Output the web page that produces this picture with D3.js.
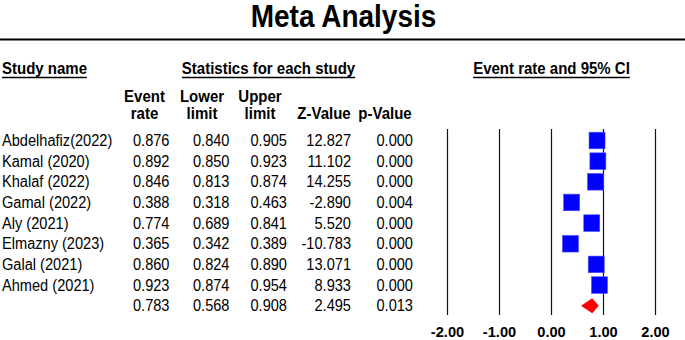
<!DOCTYPE html>
<html>
<head>
<meta charset="utf-8">
<script src="https://cdn.jsdelivr.net/npm/d3@7"></script>
<style>
  body { margin: 0; background: #fff; }
  svg { display: block; font-family: "Liberation Sans", Arial, Helvetica, sans-serif; }
</style>
</head>
<body>
<svg width="685" height="340"></svg>
<script>
const studies = ['Abdelhafiz(2022)', 'Kamal (2020)', 'Khalaf (2022)', 'Gamal (2022)',
    'Aly (2021)', 'Elmazny (2023)', 'Galal (2021)', 'Ahmed (2021)'];
const eventRate  = [0.876, 0.892, 0.846, 0.388, 0.774, 0.365, 0.860, 0.923];
const lowerLimit = [0.840, 0.850, 0.813, 0.318, 0.689, 0.342, 0.824, 0.874];
const upperLimit = [0.905, 0.923, 0.874, 0.463, 0.841, 0.389, 0.890, 0.954];
const zValue     = [12.827, 11.102, 14.255, -2.890, 5.520, -10.783, 13.071, 8.933];
const pValue     = [0.000, 0.000, 0.000, 0.004, 0.000, 0.000, 0.000, 0.000];
// pooled row
const summaryRow = [0.783, 0.568, 0.908, 2.495, 0.013];
const xTicks = [-2, -1, 0, 1, 2];

const svg = d3.select('svg');
const width = +svg.attr('width');

// plain hyphen for negatives, like the source
const fmt3 = v => v.toFixed(3);
const fmt2 = v => v.toFixed(2);

const rows = studies.map((name, i) => ({
    name,
    er: eventRate[i], lo: lowerLimit[i], up: upperLimit[i], z: zValue[i], p: pValue[i],
    summary: false
}));
rows.push({
    name: '',
    er: summaryRow[0], lo: summaryRow[1], up: summaryRow[2], z: summaryRow[3], p: summaryRow[4],
    summary: true
});

const xScale = d3.scaleLinear().domain([-2, 2]).range([447.5, 655.5]);
const yScale = d3.scalePoint()
    .domain(d3.range(rows.length))
    .range([140.5, 140.5 + 20.65 * (rows.length - 1)]);

// text helper, slightly stretched vertically like the source
const label = (sel, x, y, txt, opts = {}) => sel.append('text')
    .attr('transform', `translate(${x},${y}) scale(1,${opts.sy || 1.08})`)
    .attr('text-anchor', opts.anchor || 'start')
    .attr('font-size', opts.size || 14.6)
    .attr('font-weight', opts.bold ? 'bold' : 'normal')
    .attr('fill', '#000')
    .text(txt);

const underline = (t, x, y, anchor) => {
    const w = t.node().getComputedTextLength();
    const x0 = anchor === 'middle' ? x - w / 2 : x;
    svg.append('line')
        .attr('x1', x0).attr('x2', x0 + w)
        .attr('y1', y).attr('y2', y)
        .attr('stroke', '#000').attr('stroke-width', 1.3);
};

// title
svg.append('text')
    .attr('transform', 'translate(343.5,27) scale(1,1.1)')
    .attr('text-anchor', 'middle')
    .attr('font-size', 28)
    .attr('font-weight', 'bold')
    .text('Meta Analysis');

svg.append('line')
    .attr('x1', 0).attr('x2', width)
    .attr('y1', 39.5).attr('y2', 39.5)
    .attr('stroke', '#000').attr('stroke-width', 2);

// group headers
const headers = [
    {text: 'Study name', x: 2, anchor: 'start'},
    {text: 'Statistics for each study', x: 268.5, anchor: 'middle'},
    {text: 'Event rate and 95% CI', x: xScale(0), anchor: 'middle'}
];
headers.forEach(h => {
    const t = label(svg, h.x, 74, h.text, {size: 15, bold: true, anchor: h.anchor, sy: 1.04});
    underline(t, h.x, 77.5, h.anchor);
});

// column headers
const columns = [
    {lines: ['Event', 'rate'], hx: 144.5, right: 169.5, key: 'er'},
    {lines: ['Lower', 'limit'], hx: 202, right: 229.5, key: 'lo'},
    {lines: ['Upper', 'limit'], hx: 260, right: 287, key: 'up'},
    {lines: ['Z-Value'], hx: 324, right: 351, key: 'z'},
    {lines: ['p-Value'], hx: 385, right: 413, key: 'p'}
];
columns.forEach(c => {
    const base = c.lines.length === 2 ? 101.5 : 118.5;
    c.lines.forEach((ln, j) => {
        label(svg, c.hx, base + j * 17, ln, {size: 15, bold: true, anchor: 'middle', sy: 1.04});
    });
});

// table rows
rows.forEach((d, i) => {
    const y = yScale(i) + 5.6;
    if (d.name) label(svg, 2, y, d.name);
    columns.forEach(c => {
        label(svg, c.right, y, fmt3(d[c.key]), {anchor: 'end'});
    });
});

// forest plot
const plot = svg.append('g');

plot.selectAll('line.grid').data(xTicks)
    .enter().append('line')
        .attr('class', 'grid')
        .attr('x1', d => xScale(d)).attr('x2', d => xScale(d))
        .attr('y1', 129).attr('y2', 315)
        .attr('stroke', '#111').attr('stroke-width', 1.2);

xTicks.forEach(t => {
    label(plot, xScale(t), 337, fmt2(t), {size: 14.6, bold: true, anchor: 'middle', sy: 1.05});
});

const studyRows = rows.filter(d => !d.summary);

plot.selectAll('line.ci').data(studyRows)
    .enter().append('line')
        .attr('class', 'ci')
        .attr('x1', d => xScale(d.lo)).attr('x2', d => xScale(d.up))
        .attr('y1', (d, i) => yScale(i)).attr('y2', (d, i) => yScale(i))
        .attr('stroke', '#000').attr('stroke-width', 1);

const boxSize = 16;
plot.selectAll('rect.study').data(studyRows)
    .enter().append('rect')
        .attr('class', 'study')
        .attr('x', d => xScale(d.er) - boxSize / 2)
        .attr('y', (d, i) => yScale(i) - boxSize / 2 - 0.3)
        .attr('width', boxSize)
        .attr('height', boxSize + 0.6)
        .attr('fill', '#0000ff')
        .attr('stroke', '#4d4dff')
        .attr('stroke-width', 0.6);

const s = rows[rows.length - 1];
const sy = yScale(rows.length - 1);
plot.append('path')
    .attr('d', `M${xScale(s.lo)},${sy} L${xScale(s.er)},${sy - 7.5} L${xScale(s.up)},${sy} L${xScale(s.er)},${sy + 7.5} Z`)
    .attr('fill', '#ff0000');
</script>
</body>
</html>
